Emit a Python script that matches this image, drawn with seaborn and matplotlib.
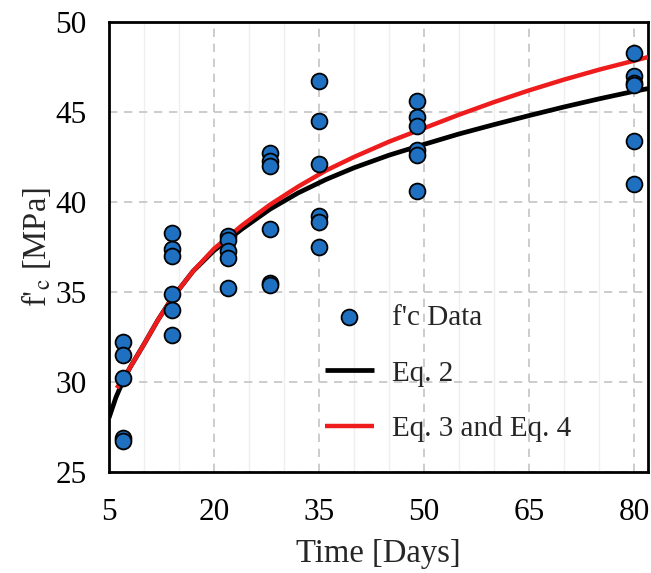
import numpy as np
import pandas as pd
import matplotlib
matplotlib.use("Agg")
import matplotlib.pyplot as plt
import seaborn as sns
from matplotlib.ticker import MultipleLocator

# ---- data ----
days = [7]*5 + [14]*6 + [22]*5 + [28]*6 + [35]*6 + [49]*6 + [80]*6
fc_data = [32.2, 31.5, 30.2, 26.9, 26.7,
           38.3, 37.4, 37.0, 34.9, 34.0, 32.6,
           38.1, 37.9, 37.3, 36.9, 35.2,
           42.7, 42.3, 42.0, 38.5, 35.5, 35.4,
           46.7, 44.5, 42.1, 39.2, 38.9, 37.5,
           45.6, 44.7, 44.2, 42.9, 42.6, 40.6,
           48.3, 47.0, 46.6, 46.5, 43.4, 41.0]

eq2_t = [5, 6, 7, 8, 10, 12, 14, 17, 20, 24, 28, 32, 36, 40, 45, 50,
         55, 60, 65, 70, 75, 80, 82]
eq2_fc = [28.0, 29.15, 30.05, 30.8, 32.1, 33.45, 34.65, 36.15, 37.3, 38.5, 39.6,
          40.5, 41.25, 41.9, 42.6, 43.2, 43.78, 44.3, 44.8, 45.28, 45.73, 46.15, 46.3]

eq3_t = [6.1, 7, 8, 10, 12, 14, 17, 20, 24, 28, 32, 36, 40, 45, 50,
         55, 60, 65, 70, 75, 80, 82]
eq3_fc = [29.66, 30.15, 30.8, 32.1, 33.45, 34.65, 36.15, 37.4, 38.7, 39.85, 40.85,
          41.75, 42.5, 43.35, 44.1, 44.85, 45.55, 46.2, 46.8, 47.35, 47.85, 48.05]

x_ticks = [5, 20, 35, 50, 65, 80]
y_ticks = [25, 30, 35, 40, 45, 50]

sns.set_style("white")
plt.rcParams['font.family'] = ['Liberation Serif', 'DejaVu Serif']
plt.rcParams['mathtext.fontset'] = 'stix'

fig = plt.figure(figsize=(6.51, 5.73), dpi=100)
ax = fig.add_axes([0.1674, 0.1763, 0.9954 - 0.1674, 0.9616 - 0.1763])

df_pts = pd.DataFrame({"t": days, "fc": fc_data})
df_e2 = pd.DataFrame({"t": eq2_t, "fc": eq2_fc})
df_e3 = pd.DataFrame({"t": eq3_t, "fc": eq3_fc})

sns.lineplot(data=df_e2, x="t", y="fc", ax=ax, color="black", lw=3.4,
             label="Eq. 2", zorder=3, sort=True)
sns.lineplot(data=df_e3, x="t", y="fc", ax=ax, color="#ee1c1c", lw=3.2,
             label="Eq. 3 and Eq. 4", zorder=4, sort=True)
sns.scatterplot(data=df_pts, x="t", y="fc", ax=ax, color="#1f70c1",
                edgecolor="black", linewidth=1.3, s=130, zorder=5,
                label="f'c Data")
for ln in ax.get_lines():
    ln.set_solid_capstyle("butt")
    ln.set_solid_joinstyle("round")

ax.set_xlim(5, 82)
ax.set_ylim(25, 50)
ax.set_xticks(x_ticks)
ax.set_yticks(y_ticks)
ax.xaxis.set_minor_locator(MultipleLocator(5))

ax.grid(which="major", color="#c4c4c4", linestyle=(0, (5, 4)), lw=1.2, zorder=0)
ax.grid(which="minor", axis="x", color="#efefef", linestyle="-", lw=1.0, zorder=0)
ax.set_axisbelow(True)

for s in ax.spines.values():
    s.set_color("black")
    s.set_linewidth(2.0)

ax.tick_params(axis="both", which="major", direction="in", length=7, width=1.5,
               labelsize=22.5, colors="black")
ax.tick_params(axis="x", which="major", pad=19, top=False)
ax.tick_params(axis="y", which="major", pad=16, right=False)
ax.tick_params(which="minor", length=0)

ax.set_xlabel("Time [Days]", fontsize=23.5, labelpad=8)
ax.set_ylabel(r"f$'_{\mathrm{c}}$ [MPa]", fontsize=23.5, labelpad=2)

handles, labels = ax.get_legend_handles_labels()
order = [labels.index("f'c Data"), labels.index("Eq. 2"), labels.index("Eq. 3 and Eq. 4")]
leg = ax.legend([handles[i] for i in order], [labels[i] for i in order],
                loc="upper left", bbox_to_anchor=(0.40, 0.372), frameon=False,
                fontsize=21, handlelength=1.7, handletextpad=0.6,
                labelspacing=1.0, borderpad=0, borderaxespad=0)

fig.savefig("out.png", dpi=100)
